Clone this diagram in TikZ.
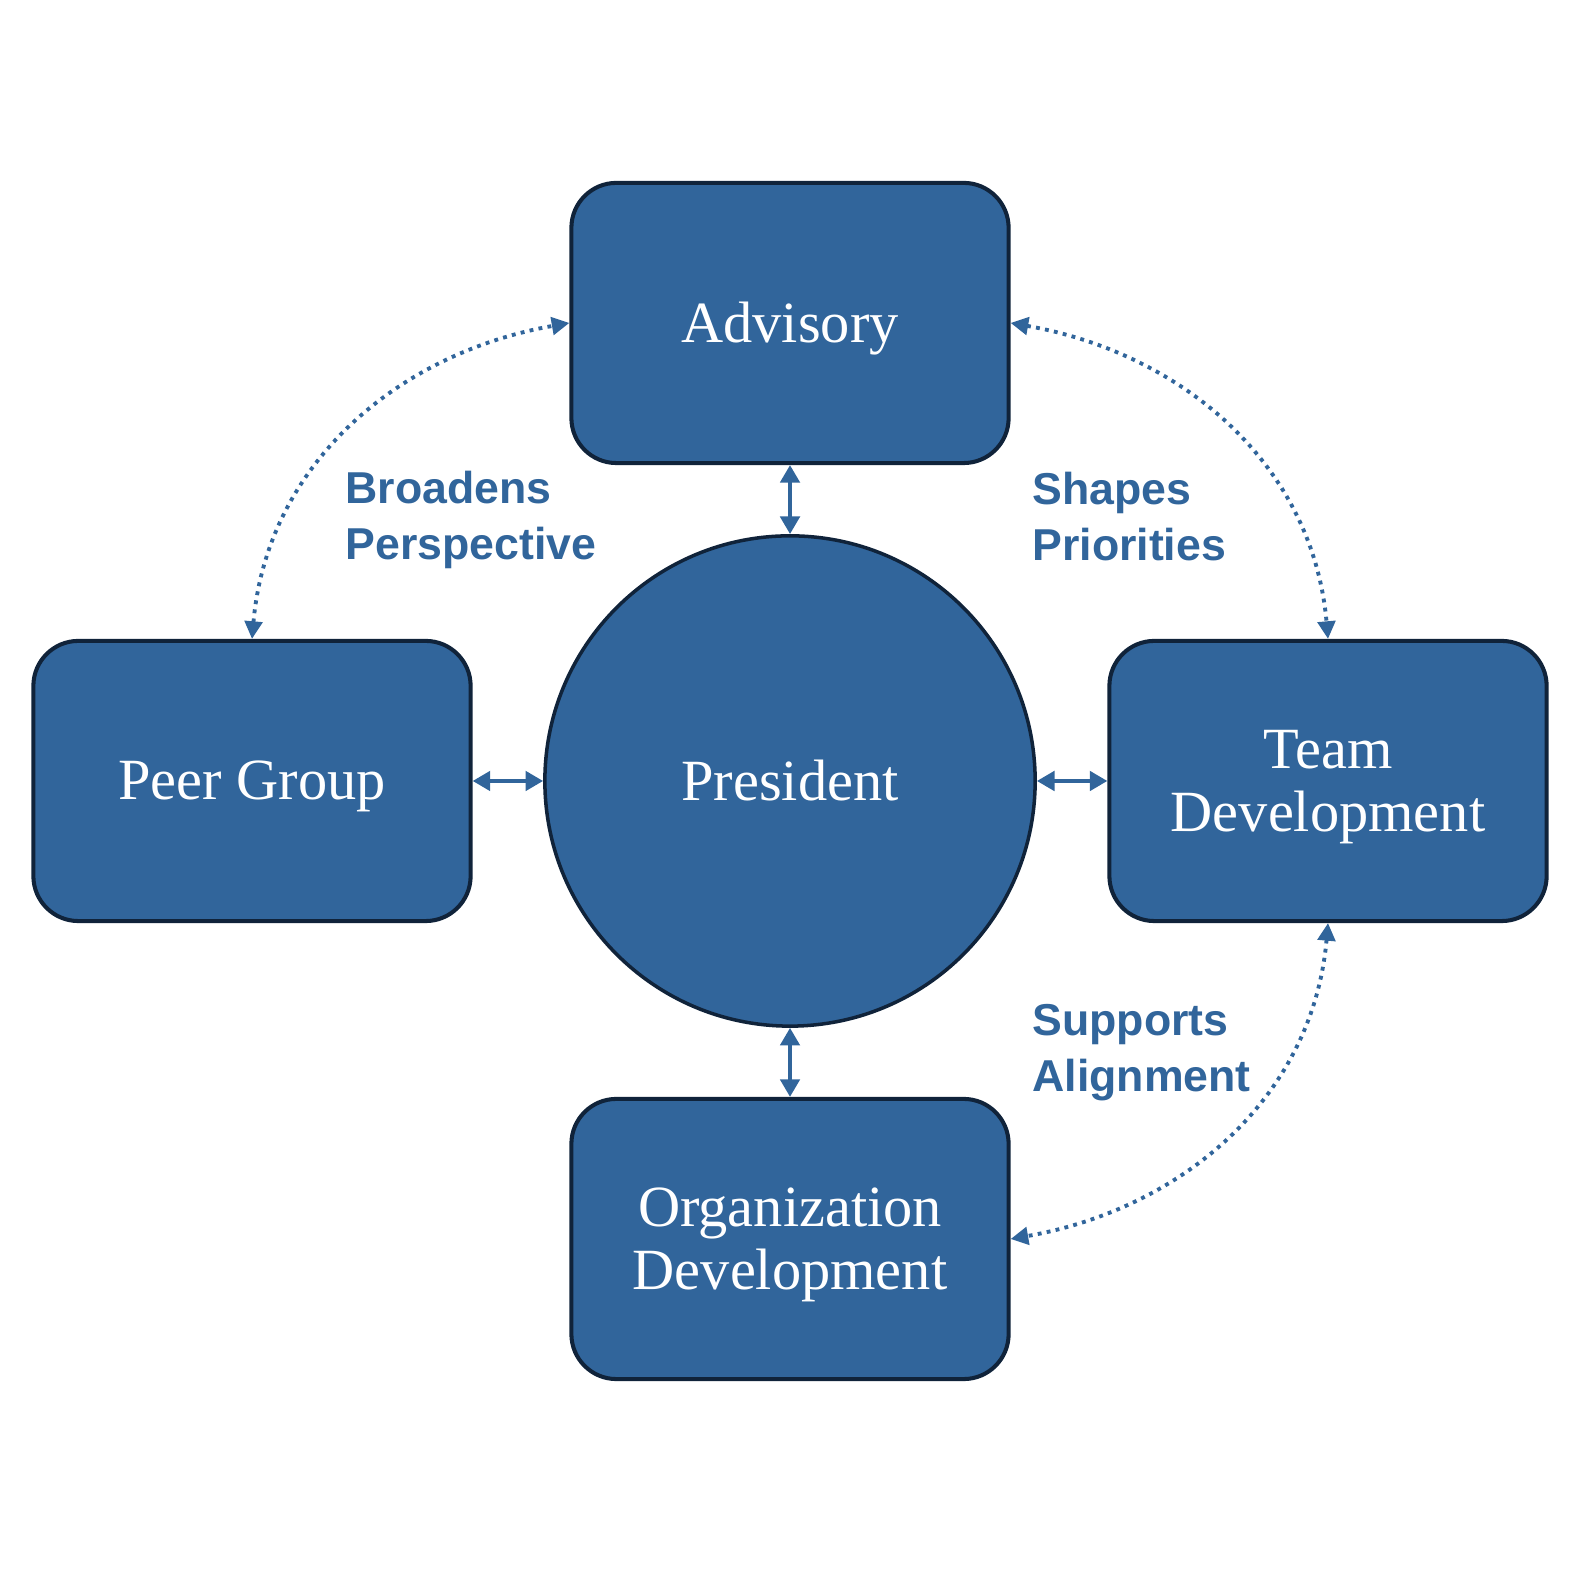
\documentclass[tikz,border=0pt]{standalone}
\usepackage{fontspec}
\usetikzlibrary{arrows.meta}
\setmainfont{Liberation Serif}
\newfontfamily\tagfont{Liberation Sans}
\definecolor{partblue}{HTML}{31659B}
\definecolor{partedge}{HTML}{10233A}

\begin{document}
\begin{tikzpicture}[x=0.01cm,y=0.01cm,
  part/.style={draw=partedge,line width=1.15pt,fill=partblue,rounded corners=4.5mm,minimum width=43.7mm,minimum height=28mm,text=white,align=center,text depth=0.2pt,font=\fontsize{16.6}{18}\selectfont},
  core/.style={circle,draw=partedge,line width=1pt,fill=partblue,minimum size=49mm,text=white,font=\fontsize{16.6}{18}\selectfont},
  link/.style={partblue,line width=1.1pt,{Triangle[length=5pt,width=5.5pt]}-{Triangle[length=5pt,width=5.5pt]}},
  loop/.style={partblue,line width=1.1pt,dash pattern=on 1.1pt off 1.5pt,{Triangle[length=5pt,width=5pt]}-{Triangle[length=5pt,width=5pt]}},
  tag/.style={text=partblue,font=\tagfont\bfseries\fontsize{12.7}{15.9}\selectfont,align=left,anchor=west}]
  \useasboundingbox (0,0) rectangle (1577,1577);
  % outer ring
  \node[part] (adv) at (790,1254) {Advisory};
  \node[part] (peer) at (252,796) {Peer Group};
  \node[part] (team) at (1328,796) {Team\\Development};
  \node[part] (org) at (790,338) {Organization\\Development};
  \node[core] (pres) at (790,796) {President};
  % direct links
  \draw[link] (adv.south) -- (pres.north);
  \draw[link] (pres.south) -- (org.north);
  \draw[link] (peer.east) -- (pres.west);
  \draw[link] (pres.east) -- (team.west);
  % side links
  \draw[loop] (peer.north) to[out=85,in=190] (adv.west);
  \draw[loop] (adv.east) to[out=-10,in=95] (team.north);
  \draw[loop] (team.south) to[out=-95,in=10] (org.east);
  \node[tag] (broad) at (333,1057) {Broadens\\Perspective};
  \node[tag] (shape) at (1020,1060) {Shapes\\Priorities};
  \node[tag] (supp) at (1020,524) {Supports\\Alignment};
\end{tikzpicture}
\end{document}
